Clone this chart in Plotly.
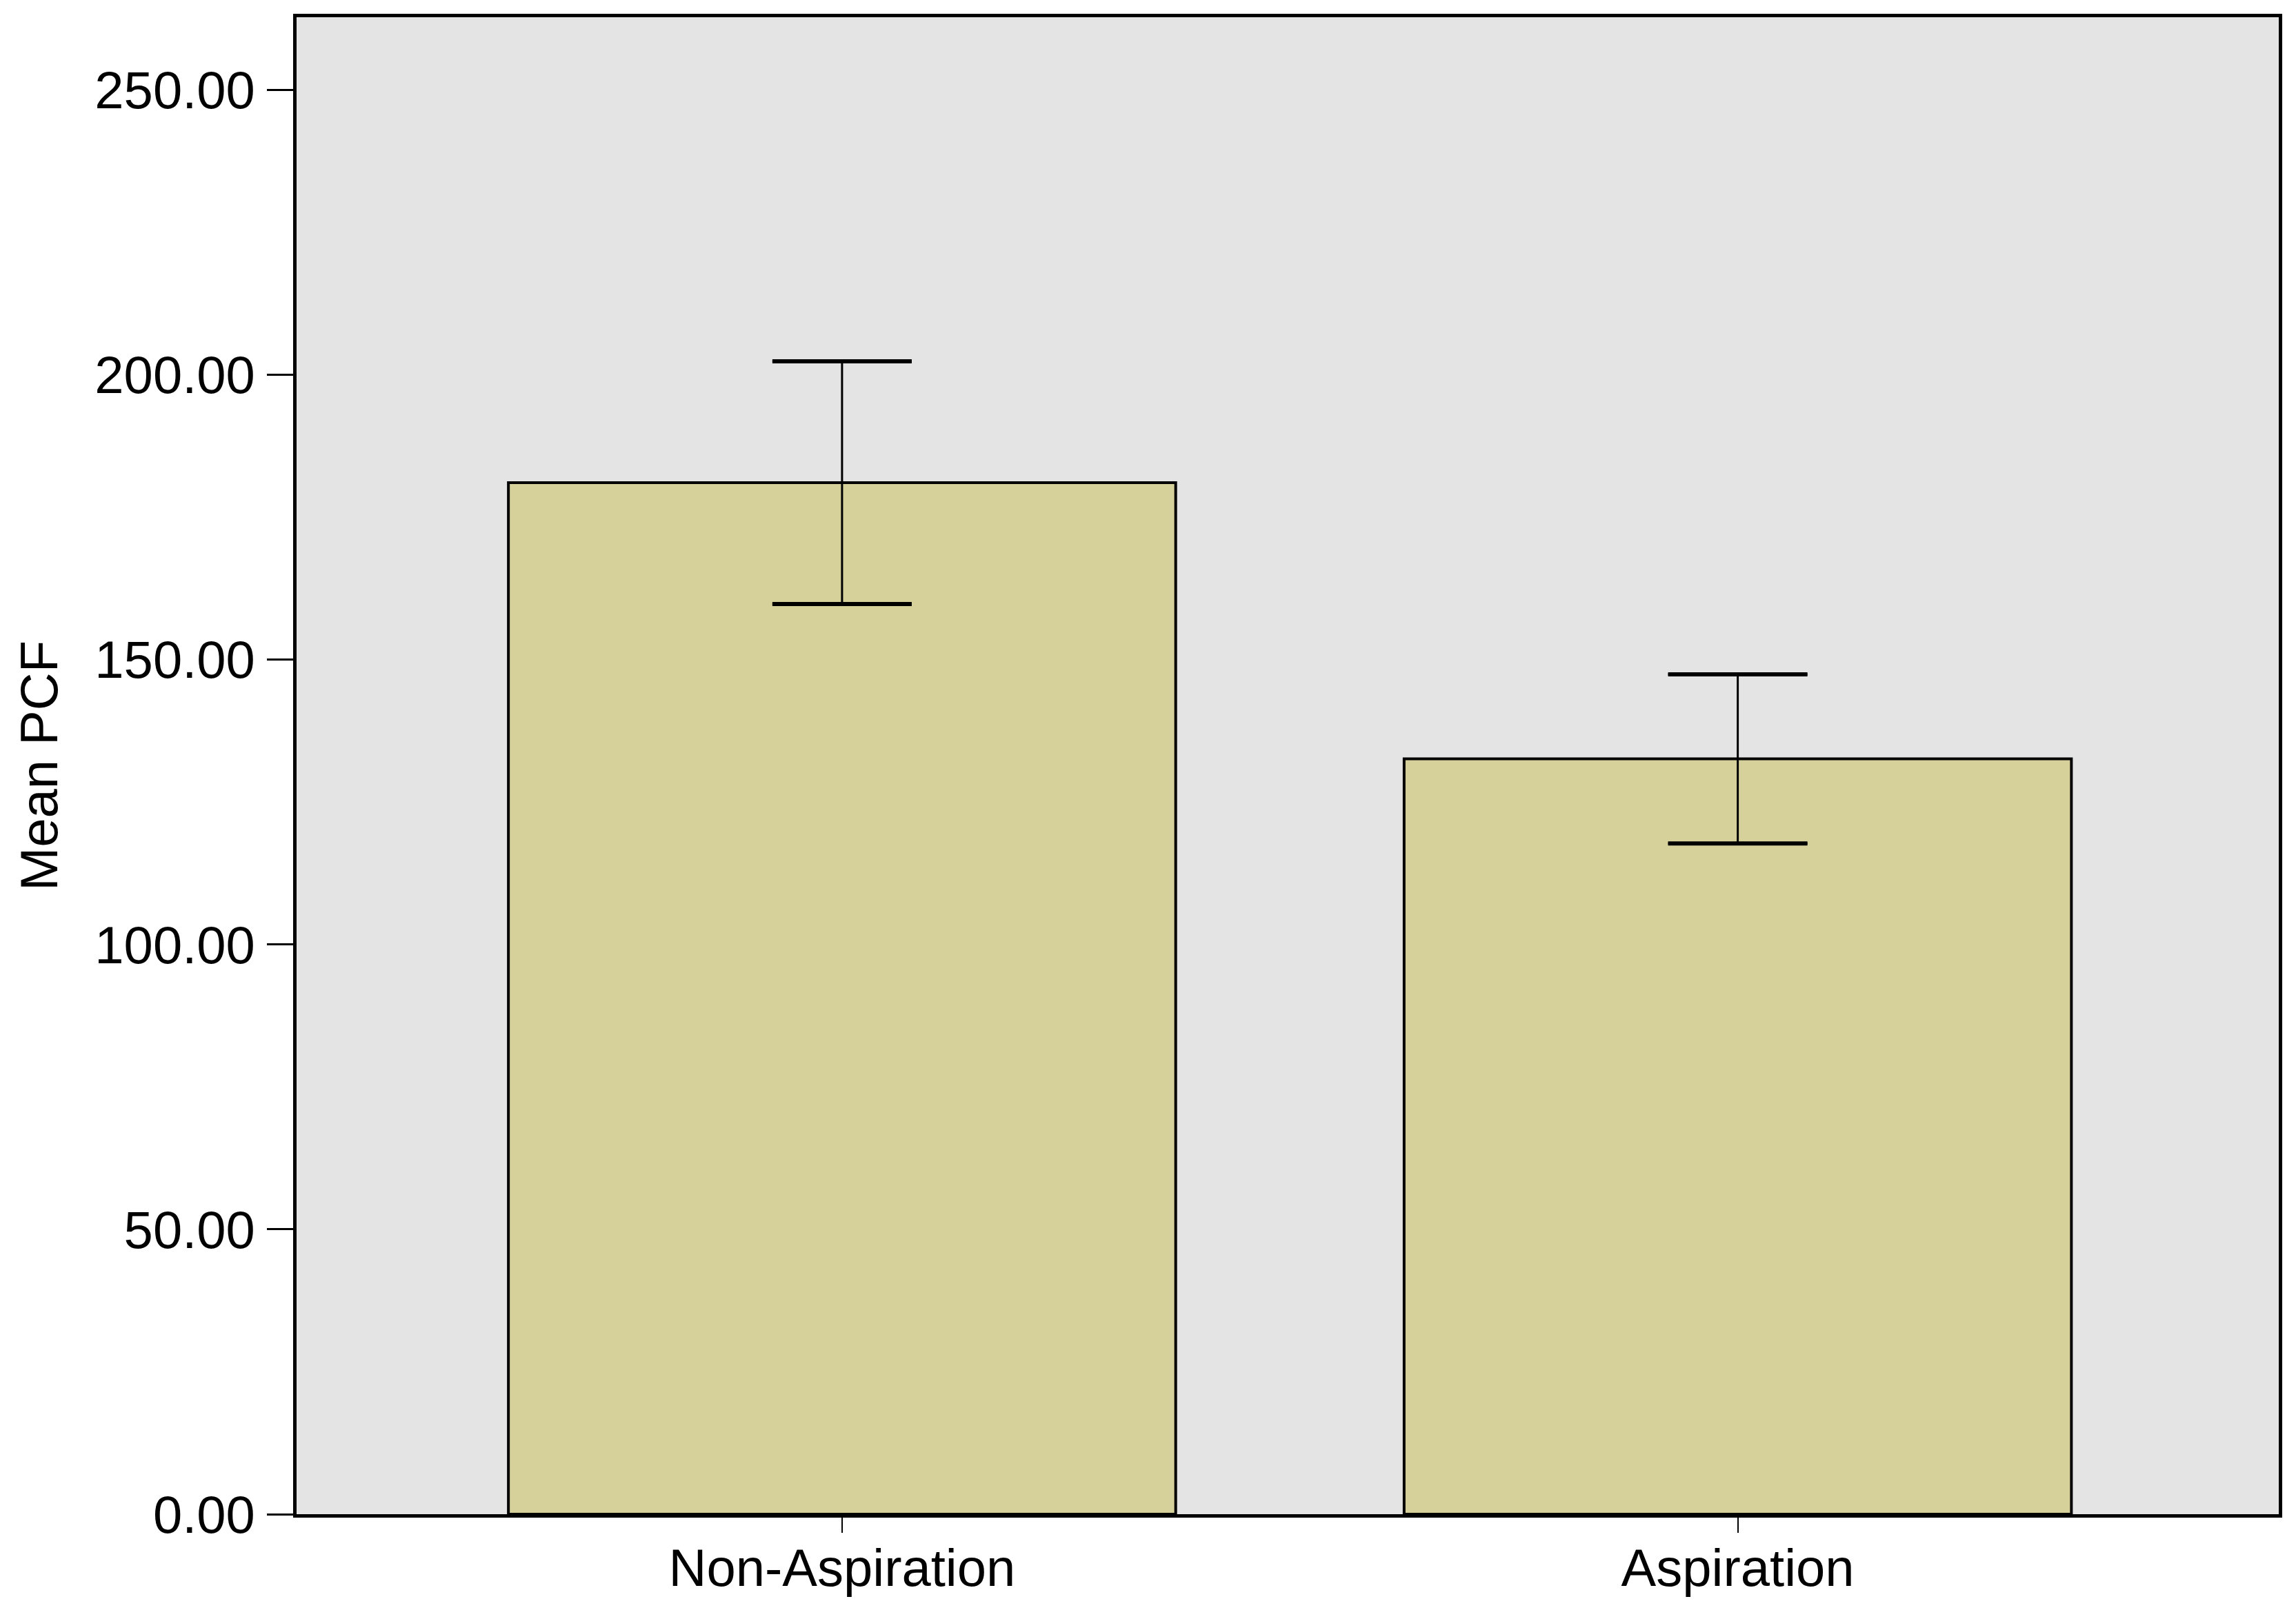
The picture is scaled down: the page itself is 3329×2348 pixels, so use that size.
import plotly.graph_objects as go

categories = ["Non-Aspiration", "Aspiration"]
means = [181.1, 132.6]
errors = [21.3, 14.85]
ytick_vals = [0, 50, 100, 150, 200, 250]

# page body has an 8px default margin; size the figure to fit inside it
W, H = 3329 - 16, 2348 - 16
FONT = "Liberation Sans, Arial, sans-serif"
FS = 76

upper = [m + e for m, e in zip(means, errors)]
lower = [m - e for m, e in zip(means, errors)]

fig = go.Figure()
fig.add_trace(go.Bar(
    x=categories, y=means,
    width=0.745,
    marker=dict(color="#D6D09A", line=dict(color="black", width=4)),
    error_y=dict(type="data", array=errors, visible=True,
                 color="black", thickness=3, width=101),
))
# thicker caps, drawn at the ends of the error bars
for ends in (upper, lower):
    fig.add_trace(go.Scatter(
        x=categories, y=ends, mode="markers",
        marker=dict(size=1, opacity=0),
        error_y=dict(type="data", array=[0] * len(ends), visible=True,
                     color="black", thickness=6, width=101),
        hoverinfo="skip",
    ))

fig.update_layout(
    width=W, height=H,
    margin=dict(l=422, r=17, t=15, b=144),
    paper_bgcolor="white",
    plot_bgcolor="#E4E4E4",
    showlegend=False,
    font=dict(family=FONT, size=FS, color="black"),
)
fig.update_xaxes(
    range=[-0.609, 1.604],
    showline=True, linecolor="black", linewidth=5, mirror=True,
    ticks="outside", ticklen=22, tickwidth=2, tickcolor="black",
    ticklabelstandoff=-14,
    showgrid=False, zeroline=False,
    tickfont=dict(family=FONT, size=FS, color="black"),
)
fig.update_yaxes(
    range=[0, 262.8],
    tickvals=ytick_vals,
    ticktext=[f"{v:.2f}" for v in ytick_vals],
    showline=True, linecolor="black", linewidth=5, mirror=True,
    ticks="outside", ticklen=38, tickwidth=3, tickcolor="black",
    ticklabelstandoff=2,
    showgrid=False, zeroline=False,
    tickfont=dict(family=FONT, size=FS, color="black"),
    title=dict(text="Mean PCF", font=dict(family=FONT, size=FS, color="black"), standoff=30),
)

fig.write_html("out.html")
